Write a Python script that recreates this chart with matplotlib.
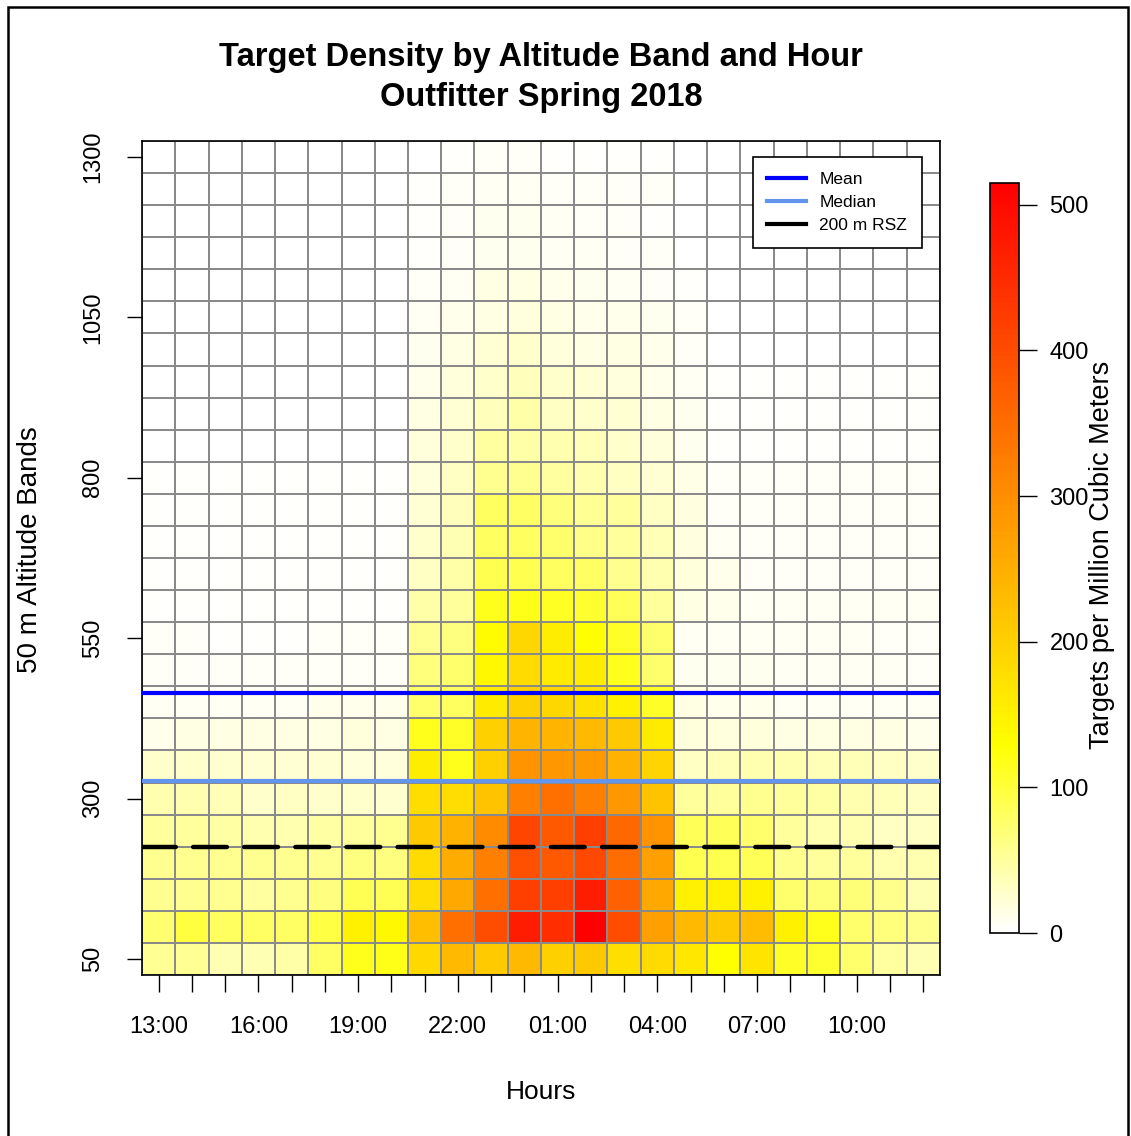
import numpy as np
import matplotlib
matplotlib.use('Agg')
import matplotlib.pyplot as plt
from matplotlib.colors import LinearSegmentedColormap
from matplotlib.lines import Line2D
from matplotlib.patches import Rectangle

plt.rcParams['font.family'] = ['Liberation Sans', 'DejaVu Sans']

# hours of the night, starting at 13:00
hours = ['13:00', '14:00', '15:00', '16:00', '17:00', '18:00', '19:00', '20:00',
         '21:00', '22:00', '23:00', '00:00', '01:00', '02:00', '03:00', '04:00',
         '05:00', '06:00', '07:00', '08:00', '09:00', '10:00', '11:00', '12:00']
altitudes = list(range(50, 1301, 50))

# targets per million cubic meters, one row per altitude band (50 m upward)
density = [
    [55, 55, 40, 40, 45, 80, 115, 118, 189, 235, 208, 235, 200, 210, 178, 185, 165, 130, 170, 110, 105, 75, 50, 40],
    [73, 98, 82, 80, 80, 95, 150, 140, 227, 348, 398, 472, 446, 515, 400, 275, 235, 210, 230, 150, 115, 75, 68, 60],
    [58, 58, 58, 50, 58, 65, 88, 88, 180, 260, 348, 420, 420, 470, 370, 260, 150, 150, 150, 75, 70, 70, 60, 40],
    [58, 58, 58, 58, 58, 58, 65, 65, 185, 255, 320, 395, 380, 405, 350, 275, 90, 90, 85, 60, 52, 52, 42, 42],
    [52, 52, 48, 42, 42, 48, 52, 58, 210, 245, 305, 410, 380, 420, 360, 290, 85, 85, 75, 52, 42, 42, 32, 32],
    [42, 42, 37, 28, 32, 28, 28, 26, 180, 180, 220, 320, 345, 320, 285, 220, 52, 52, 58, 52, 48, 42, 37, 32],
    [28, 28, 26, 24, 24, 24, 20, 20, 155, 115, 200, 290, 285, 283, 245, 195, 32, 37, 42, 42, 37, 37, 32, 28],
    [12, 16, 16, 16, 16, 16, 20, 16, 115, 110, 200, 240, 240, 235, 210, 160, 20, 20, 20, 16, 16, 16, 16, 12],
    [8, 8, 8, 8, 8, 12, 12, 12, 75, 82, 160, 200, 190, 175, 150, 110, 16, 12, 12, 8, 8, 8, 8, 8],
    [6, 6, 5, 5, 5, 6, 6, 6, 68, 75, 140, 185, 160, 155, 115, 75, 10, 10, 10, 8, 8, 8, 8, 6],
    [5, 5, 4, 4, 4, 5, 5, 5, 58, 65, 135, 190, 155, 130, 110, 75, 8, 8, 8, 8, 8, 8, 5, 5],
    [3, 3, 3, 3, 3, 3, 3, 3, 45, 52, 115, 118, 112, 105, 85, 52, 16, 12, 8, 8, 8, 8, 8, 8],
    [4, 4, 4, 4, 4, 4, 4, 4, 32, 46, 90, 90, 82, 80, 58, 42, 20, 12, 6, 6, 6, 6, 6, 6],
    [3, 3, 3, 3, 3, 3, 3, 3, 28, 40, 82, 82, 75, 62, 52, 38, 18, 8, 5, 5, 5, 5, 5, 5],
    [3, 3, 3, 3, 3, 3, 3, 3, 24, 36, 82, 80, 68, 55, 52, 32, 18, 6, 6, 6, 6, 6, 6, 6],
    [3, 3, 3, 3, 3, 3, 3, 3, 20, 32, 58, 58, 50, 42, 32, 24, 14, 5, 5, 5, 5, 5, 5, 5],
    [2, 2, 2, 2, 2, 2, 2, 2, 20, 28, 50, 46, 42, 38, 28, 20, 10, 4, 4, 4, 4, 4, 4, 4],
    [2, 2, 2, 2, 2, 2, 2, 2, 16, 24, 36, 46, 32, 28, 24, 16, 10, 3, 3, 3, 3, 3, 3, 3],
    [2, 2, 2, 2, 2, 2, 2, 2, 12, 20, 28, 36, 28, 24, 20, 12, 8, 3, 3, 3, 3, 3, 3, 3],
    [2, 2, 2, 2, 2, 2, 2, 2, 10, 16, 24, 28, 20, 16, 16, 12, 6, 2, 2, 2, 2, 2, 2, 2],
    [2, 2, 2, 2, 2, 2, 2, 2, 8, 12, 16, 20, 16, 12, 12, 10, 5, 2, 2, 2, 2, 2, 2, 2],
    [1, 1, 1, 1, 1, 1, 1, 1, 5, 8, 16, 16, 12, 10, 8, 6, 3, 1, 1, 1, 1, 1, 1, 1],
    [1, 1, 1, 1, 1, 1, 1, 1, 4, 6, 10, 10, 8, 7, 6, 5, 2, 1, 1, 1, 1, 1, 1, 1],
    [1, 1, 1, 1, 1, 1, 1, 1, 3, 6, 10, 10, 8, 6, 6, 4, 2, 1, 1, 1, 1, 1, 1, 1],
    [0, 0, 0, 0, 0, 0, 0, 0, 3, 6, 8, 8, 6, 5, 5, 5, 1, 0, 0, 0, 0, 0, 0, 0],
    [0, 0, 0, 0, 0, 0, 0, 0, 2, 4, 5, 5, 4, 4, 3, 3, 1, 0, 0, 0, 0, 0, 0, 0],
]

mean_alt = 465
median_alt = 327
rsz_alt = 225

W, H = 1131, 1136
fig = plt.figure(figsize=(W / 100, H / 100), dpi=100)

# reversed R heat.colors: white -> yellow -> red
heat = LinearSegmentedColormap.from_list('heat_r', [(0, '#ffffff'), (0.25, '#ffff00'), (1, '#ff0000')])

z = np.array(density)
x_edges = np.arange(len(hours) + 1) - 0.5
y_edges = np.array(altitudes + [altitudes[-1] + 50]) - 25

ax = fig.add_axes([142 / W, 1 - 975 / H, 798 / W, 834 / H])
mesh = ax.pcolormesh(x_edges, y_edges, z, cmap=heat, vmin=0, vmax=z.max(),
                     edgecolors='#8a8a8a', linewidth=1.4)
ax.set_xlim(x_edges[0], x_edges[-1])
ax.set_ylim(y_edges[0], y_edges[-1])

ax.axhline(mean_alt, color='#0000ff', lw=3.0, zorder=3)
ax.axhline(median_alt, color='#6495ed', lw=3.0, zorder=3)
ax.axhline(rsz_alt, color='black', lw=3.2, dashes=(7.6, 3.9), dash_capstyle='round', zorder=3)

ax.set_xticks(range(len(hours)))
ax.set_xticklabels([h if i % 3 == 0 else '' for i, h in enumerate(hours)])
ax.set_yticks(altitudes[::5])
ax.tick_params(axis='x', length=12, width=1, pad=17.5, labelsize=17)
ax.tick_params(axis='y', length=11, width=1, pad=16, labelsize=17, labelrotation=90)
for lab in ax.get_yticklabels():
    lab.set_va('center')
for s in ax.spines.values():
    s.set_linewidth(1.2)

ax.set_xlabel('Hours', fontsize=19, labelpad=30)
fig.text(30 / W, 1 - 550 / H, '50 m Altitude Bands', rotation=90, fontsize=20,
         ha='center', va='center')

fig.text(541 / W, 1 - 77.5 / H, 'Target Density by Altitude Band and Hour\nOutfitter Spring 2018',
         fontsize=23.5, fontweight='bold', ha='center', va='center', linespacing=1.35)

handles = [Line2D([], [], color='#0000ff', lw=3.0),
           Line2D([], [], color='#6495ed', lw=3.0),
           Line2D([], [], color='black', lw=3.0)]
leg = ax.legend(handles, ['Mean', 'Median', '200 m RSZ'], loc='upper right',
                bbox_to_anchor=((922 - 142) / 798, (975 - 157) / 834), borderaxespad=0,
                fontsize=12.5, handlelength=2.2, handletextpad=0.8, labelspacing=0.45,
                borderpad=0.85, fancybox=False, framealpha=1, edgecolor='black')
leg.get_frame().set_linewidth(1.2)

cax = fig.add_axes([990 / W, 1 - 933 / H, 29 / W, 750 / H])
cb = fig.colorbar(mesh, cax=cax)
cb.set_ticks([0, 100, 200, 300, 400, 500])
cb.outline.set_linewidth(1.2)
cax.tick_params(length=13, width=1, pad=9, labelsize=17)
fig.text(1102 / W, 1 - 555 / H, 'Targets per Million Cubic Meters', rotation=90,
         fontsize=19.5, ha='center', va='center')

# outer frame of the picture
fig.patches.append(Rectangle((8 / W, -0.05), 1120 / W, 1.05 - 7 / H, transform=fig.transFigure,
                             fill=False, edgecolor='black', lw=1.8))

fig.savefig('out.png', dpi=100)
